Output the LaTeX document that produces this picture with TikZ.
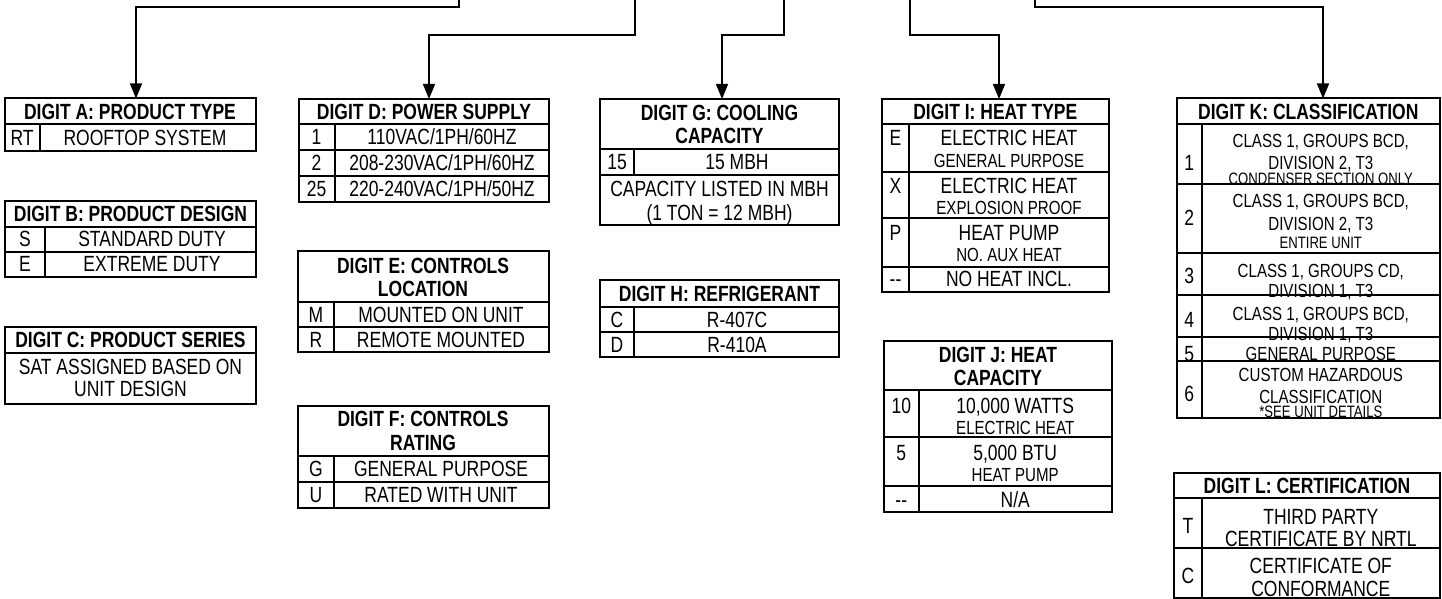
\documentclass[tikz,border=0pt]{standalone}
\usepackage{fontspec}
\setmainfont{Liberation Sans}[FakeStretch=0.795]
\usetikzlibrary{arrows.meta}
\newcommand\fmain{\fontsize{22pt}{24pt}\selectfont}
\newcommand\fsub{\fontsize{19pt}{21pt}\selectfont}
\newcommand\fsml{\fontsize{16.5pt}{18pt}\selectfont}
\begin{document}
\begin{tikzpicture}[x=1pt,y=-1pt,
 tb/.style={line width=2pt},
 tbox/.style={draw, line width=2pt, inner sep=0pt, outer sep=0pt, anchor=north west},
 conn/.style={line width=1.4pt, -{Triangle[length=15pt,width=12pt]}},
 mt/.style={font=\fmain, anchor=base, yshift=-7.9pt, inner sep=0pt},
 ht/.style={font=\fmain\bfseries, anchor=base, yshift=-7.9pt, inner sep=0pt},
 st/.style={font=\fsub, anchor=base, yshift=-6.8pt, inner sep=0pt},
 kt/.style={font=\fsml, anchor=base, yshift=-5.9pt, inner sep=0pt}]
\useasboundingbox (0,0) rectangle (1442,599);

% ---------- Table A
\node[tbox, minimum width=251pt, minimum height=52pt] (tA) at (5,98.5) {};
\draw[tb] (5,124.5) -- (256,124.5) (39.5,124.5) -- (39.5,150.5);
\node[ht] (hA) at (130,112) {DIGIT A: PRODUCT TYPE};
\node[mt] (a1) at (22,137.5) {RT};
\node[mt] (a2) at (145,137.5) {ROOFTOP SYSTEM};

% ---------- Table B
\node[tbox, minimum width=251pt, minimum height=75.5pt] (tB) at (5,201) {};
\draw[tb] (5,226.5) -- (256,226.5) (5,251.5) -- (256,251.5) (44.5,226.5) -- (44.5,276.5);
\node[ht] (hB) at (130.5,214) {DIGIT B: PRODUCT DESIGN};
\node[mt] (b1) at (25,239) {S};
\node[mt] (b2) at (152,239) {STANDARD DUTY};
\node[mt] (b3) at (25,264) {E};
\node[mt] (b4) at (152,264) {EXTREME DUTY};

% ---------- Table C
\node[tbox, minimum width=251pt, minimum height=77.5pt] (tC) at (5,326.5) {};
\draw[tb] (5,352.5) -- (256,352.5);
\node[ht] (hC) at (130.5,339.5) {DIGIT C: PRODUCT SERIES};
\node[mt] (c1) at (130.5,367) {SAT ASSIGNED BASED ON};
\node[mt] (c2) at (130.5,389) {UNIT DESIGN};

% ---------- Table D
\node[tbox, minimum width=250pt, minimum height=102.5pt] (tD) at (298.5,99) {};
\draw[tb] (298.5,124) -- (548.5,124) (298.5,149.5) -- (548.5,149.5) (298.5,175.5) -- (548.5,175.5)
  (335,124) -- (335,201.5);
\node[ht] (hD) at (424,111.5) {DIGIT D: POWER SUPPLY};
\node[mt] (d1) at (316.5,136.7) {1};
\node[mt] (d2) at (442,136.7) {110VAC/1PH/60HZ};
\node[mt] (d3) at (316.5,162.5) {2};
\node[mt] (d4) at (442,162.5) {208-230VAC/1PH/60HZ};
\node[mt] (d5) at (316.5,188.5) {25};
\node[mt] (d6) at (442,188.5) {220-240VAC/1PH/50HZ};

% ---------- Table E
\node[tbox, minimum width=250.5pt, minimum height=101.3pt] (tE) at (298,251) {};
\draw[tb] (298,301.7) -- (548.5,301.7) (298,326.7) -- (548.5,326.7) (334,301.7) -- (334,352.3);
\node[ht] (hE1) at (423,266) {DIGIT E: CONTROLS};
\node[ht] (hE2) at (423,288.5) {LOCATION};
\node[mt] (e1) at (316,314.2) {M};
\node[mt] (e2) at (441,314.2) {MOUNTED ON UNIT};
\node[mt] (e3) at (316,339.5) {R};
\node[mt] (e4) at (441,339.5) {REMOTE MOUNTED};

% ---------- Table F
\node[tbox, minimum width=250.5pt, minimum height=101.7pt] (tF) at (298,406) {};
\draw[tb] (298,455.7) -- (548.5,455.7) (298,481.7) -- (548.5,481.7) (334,455.7) -- (334,507.7);
\node[ht] (hF1) at (423,418.5) {DIGIT F: CONTROLS};
\node[ht] (hF2) at (423,442.5) {RATING};
\node[mt] (f1) at (316,468.7) {G};
\node[mt] (f2) at (441,468.7) {GENERAL PURPOSE};
\node[mt] (f3) at (316,494.7) {U};
\node[mt] (f4) at (441,494.7) {RATED WITH UNIT};

% ---------- Table G
\node[tbox, minimum width=239pt, minimum height=126pt] (tG) at (600,99) {};
\draw[tb] (600,149) -- (839,149) (600,174.7) -- (839,174.7) (634.3,149) -- (634.3,174.7);
\node[ht] (hG1) at (719.5,112.5) {DIGIT G: COOLING};
\node[ht] (hG2) at (719.5,136) {CAPACITY};
\node[mt] (g1) at (617,162) {15};
\node[mt] (g2) at (737,162) {15 MBH};
\node[mt] (g3) at (719.5,189) {CAPACITY LISTED IN MBH};
\node[mt] (g4) at (719.5,213) {(1 TON = 12 MBH)};

% ---------- Table H
\node[tbox, minimum width=239.3pt, minimum height=77.3pt] (tH) at (600,280) {};
\draw[tb] (600,306.7) -- (839.3,306.7) (600,331.7) -- (839.3,331.7) (634.3,306.7) -- (634.3,357.3);
\node[ht] (hH) at (719.5,293.3) {DIGIT H: REFRIGERANT};
\node[mt] (h1) at (617,319.2) {C};
\node[mt] (h2) at (737,319.2) {R-407C};
\node[mt] (h3) at (617,344.5) {D};
\node[mt] (h4) at (737,344.5) {R-410A};

% ---------- Table I
\node[tbox, minimum width=227.3pt, minimum height=192.7pt] (tI) at (881.7,99) {};
\draw[tb] (881.7,124.3) -- (1109,124.3) (881.7,171.7) -- (1109,171.7) (881.7,218.3) -- (1109,218.3)
  (881.7,266.7) -- (1109,266.7) (909.3,124.3) -- (909.3,291.7);
\node[ht] (hI) at (995.3,111.7) {DIGIT I: HEAT TYPE};
\node[mt] (i1) at (895.5,137.5) {E};
\node[mt] (i2) at (1009,137.5) {ELECTRIC HEAT};
\node[st] (i3) at (1009,160.7) {GENERAL PURPOSE};
\node[mt] (i4) at (895.5,186) {X};
\node[mt] (i5) at (1009,186) {ELECTRIC HEAT};
\node[st] (i6) at (1009,208) {EXPLOSION PROOF};
\node[mt] (i7) at (895.5,233) {P};
\node[mt] (i8) at (1009,233) {HEAT PUMP};
\node[st] (i9) at (1009,255) {NO. AUX HEAT};
\node[mt] (i10) at (895.5,279) {-{}-};
\node[mt] (i11) at (1009,279) {NO HEAT INCL.};

% ---------- Table J
\node[tbox, minimum width=227.7pt, minimum height=170.7pt] (tJ) at (884,341) {};
\draw[tb] (884,390) -- (1111.7,390) (884,437.3) -- (1111.7,437.3) (884,485.7) -- (1111.7,485.7)
  (918.7,390) -- (918.7,511.7);
\node[ht] (hJ1) at (998,355) {DIGIT J: HEAT};
\node[ht] (hJ2) at (998,378) {CAPACITY};
\node[mt] (j1) at (901.3,406) {10};
\node[mt] (j2) at (1015.2,406) {10,000 WATTS};
\node[st] (j3) at (1015.2,427.3) {ELECTRIC HEAT};
\node[mt] (j4) at (901.3,452.5) {5};
\node[mt] (j5) at (1015.2,452.5) {5,000 BTU};
\node[st] (j6) at (1015.2,475) {HEAT PUMP};
\node[mt] (j7) at (901.3,500) {-{}-};
\node[mt] (j8) at (1015.2,500) {N/A};

% ---------- Table K
\node[tbox, minimum width=263.3pt, minimum height=319.2pt] (tK) at (1176.7,98.5) {};
\draw[tb] (1176.7,124) -- (1440,124) (1176.7,184.3) -- (1440,184.3) (1176.7,252.7) -- (1440,252.7)
  (1176.7,295) -- (1440,295) (1176.7,336.7) -- (1440,336.7) (1176.7,361) -- (1440,361)
  (1201.7,124) -- (1201.7,417.7);
\node[ht] (hK) at (1308.3,111.3) {DIGIT K: CLASSIFICATION};
\node[mt] (k1) at (1189.2,162.5) {1};
\node[st] (k2) at (1320.8,141) {CLASS 1, GROUPS BCD,};
\node[st] (k3) at (1320.8,162.5) {DIVISION 2, T3};
\node[kt] (k4) at (1320.8,178.5) {CONDENSER SECTION ONLY};
\node[mt] (k5) at (1189.2,217.5) {2};
\node[st] (k6) at (1320.8,200.8) {CLASS 1, GROUPS BCD,};
\node[st] (k7) at (1320.8,223.5) {DIVISION 2, T3};
\node[kt] (k8) at (1320.8,242.5) {ENTIRE UNIT};
\node[mt] (k9) at (1189.2,275.8) {3};
\node[st] (k10) at (1320.8,270.8) {CLASS 1, GROUPS CD,};
\node[st] (k11) at (1320.8,291) {DIVISION 1, T3};
\node[mt] (k12) at (1189.2,319.7) {4};
\node[st] (k13) at (1320.8,313.7) {CLASS 1, GROUPS BCD,};
\node[st] (k14) at (1320.8,334) {DIVISION 1, T3};
\node[mt] (k15) at (1189.2,353.3) {5};
\node[st] (k16) at (1320.8,353.3) {GENERAL PURPOSE};
\node[mt] (k17) at (1189.2,394) {6};
\node[st] (k18) at (1320.8,375) {CUSTOM HAZARDOUS};
\node[st] (k19) at (1320.8,396.5) {CLASSIFICATION};
\node[kt] (k20) at (1320.8,411.7) {*SEE UNIT DETAILS};

% ---------- Table L
\node[tbox, minimum width=266pt, minimum height=125.3pt] (tL) at (1174,472.7) {};
\draw[tb] (1174,498.3) -- (1440,498.3) (1174,548.3) -- (1440,548.3) (1201.7,498.3) -- (1201.7,598);
\node[ht] (hL) at (1307,485.5) {DIGIT L: CERTIFICATION};
\node[mt] (l1) at (1188,526) {T};
\node[mt] (l2) at (1320.8,516.7) {THIRD PARTY};
\node[mt] (l3) at (1320.8,539) {CERTIFICATE BY NRTL};
\node[mt] (l4) at (1188,576) {C};
\node[mt] (l5) at (1320.8,566) {CERTIFICATE OF};
\node[mt] (l6) at (1320.8,589) {CONFORMANCE};

% ---------- Connectors
\coordinate (sA) at (459,0);  \coordinate (bA) at (136,7);
\coordinate (sD) at (635,0);  \coordinate (bD) at (429,35);
\coordinate (sG) at (784,0);  \coordinate (bG) at (722,35);
\coordinate (sI) at (910,0);  \coordinate (bI) at (999,35);
\coordinate (sK) at (1035,0); \coordinate (bK) at (1323,7);
\draw[conn] (sA) |- (bA) -- (tA.north -| bA);
\draw[conn] (sD) |- (bD) -- (tD.north -| bD);
\draw[conn] (sG) |- (bG) -- (tG.north -| bG);
\draw[conn] (sI) |- (bI) -- (tI.north -| bI);
\draw[conn] (sK) |- (bK) -- (tK.north -| bK);
\end{tikzpicture}
\end{document}
